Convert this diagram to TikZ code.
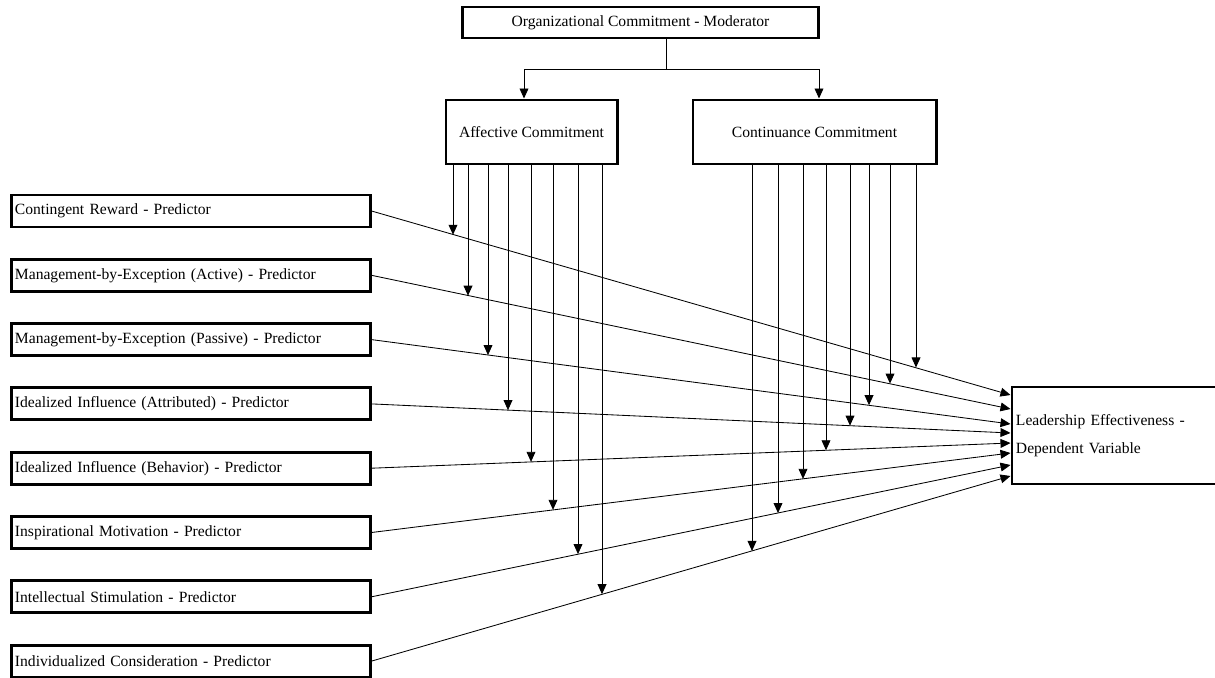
\documentclass[tikz,border=0pt]{standalone}
\usepackage{fontspec}
\setmainfont{Liberation Serif}
\usetikzlibrary{arrows.meta,calc}

\begin{document}
\begin{tikzpicture}[x=0.025cm,y=-0.025cm,>={Triangle[length=0.25cm,width=0.22cm]},line width=0.6pt,
  box/.style={draw,line width=2.1pt,inner sep=0pt,font=\fontsize{11.1pt}{13pt}\selectfont},
  pred/.style={box,minimum width=8.95cm,minimum height=0.8cm,inner xsep=0.075cm,text width=8.8cm,align=left}]
  \useasboundingbox (0,0) rectangle (1215,677);
  % Moderator
  \node[box,minimum width=8.875cm,minimum height=0.775cm] (mod) at (640.5,22.5) {Organizational Commitment - Moderator};
  \node[box,minimum width=4.275cm,minimum height=1.6cm] (aff) at (531.5,132) {Affective Commitment};
  \node[box,minimum width=6.075cm,minimum height=1.6cm] (cont) at (814.5,132) {Continuance Commitment};
  \coordinate (split) at (666,69);
  \draw (mod.south -| split) -- (split);
  \draw[->] (split) -| (aff.north -| 524,0);
  \draw[->] (split) -| (cont.north -| 819,0);
  % abhaengige Variable
  \node[box,minimum width=5.125cm,minimum height=2.425cm,inner xsep=0.1cm,text width=4.925cm,align=left,
    font=\fontsize{11.1pt}{19.9pt}\selectfont] (lead) at (1114.5,435.5) {Leadership Effectiveness -\\Dependent Variable};
  % Praediktoren
  \foreach \txt [count=\i] in {Contingent Reward - Predictor,
      Management-by-Exception (Active) - Predictor,
      Management-by-Exception (Passive) - Predictor,
      Idealized Influence (Attributed) - Predictor,
      Idealized Influence (Behavior) - Predictor,
      Inspirational Motivation - Predictor,
      Intellectual Stimulation - Predictor,
      Individualized Consideration - Predictor}
    \node[pred] (p\i) at (191,{146.7+64.3*\i}) {\txt};
  % Pfeile zur abhaengigen Variable
  \foreach \yy [count=\i] in {395,409,424,433,443,453,465,476} {
    \coordinate (in\i) at (lead.west |- 0,\yy);
    \draw[->] (p\i.east) -- (in\i);
  }
  % Moderatorpfeile (Spitze auf der Linie p_i -> in_i)
  \foreach \xx/\yy [count=\i] in {453/395,468/409,488/424,508/433,531/443,553/453,578/465,602/476} {
    \coordinate (cut) at (\xx,{146.7+64.3*\i+((\xx-370)/642)*(\yy-146.7-64.3*\i)});
    \draw[->] (aff.south -| cut) -- (cut);
  }
  \foreach \xx/\yy [count=\i] in {916/395,890/409,869/424,850/433,826/443,803/453,778/465,752/476} {
    \coordinate (cut) at (\xx,{146.7+64.3*\i+((\xx-370)/642)*(\yy-146.7-64.3*\i)});
    \draw[->] (cont.south -| cut) -- (cut);
  }
\end{tikzpicture}
\end{document}
